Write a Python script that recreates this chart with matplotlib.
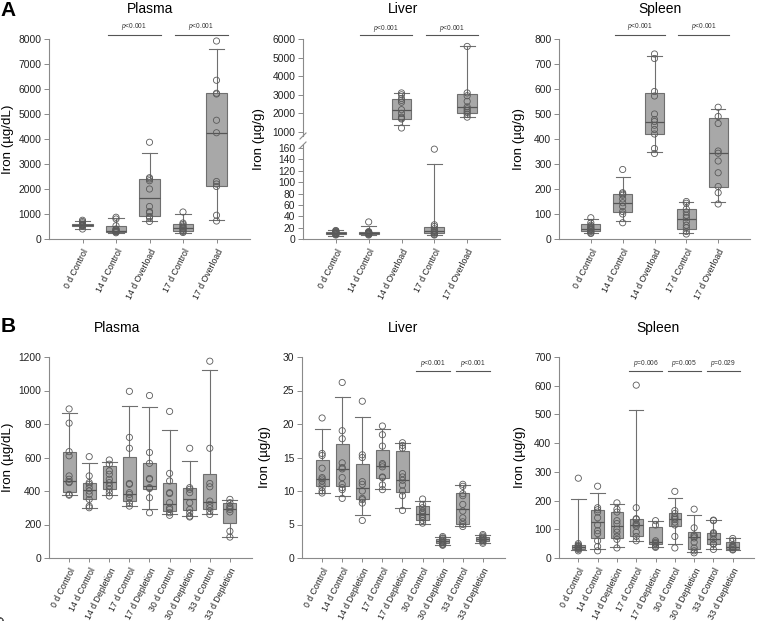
import numpy as np
import matplotlib.pyplot as plt
from matplotlib.lines import Line2D

plt.rcParams['font.family'] = ['Liberation Sans', 'DejaVu Sans']
plt.rcParams['mathtext.fontset'] = 'custom'
plt.rcParams['mathtext.it'] = 'Liberation Sans:italic'
plt.rcParams['mathtext.rm'] = 'Liberation Sans'

W, H = 760, 621

groups_a = ['0 d Control', '14 d Control', '14 d Overload', '17 d Control', '17 d Overload']
groups_b = ['0 d Control', '14 d Control', '14 d Depletion', '17 d Control', '17 d Depletion',
            '30 d Control', '30 d Depletion', '33 d Control', '33 d Depletion']

# ---- A: plasma (ug/dL)
a_plasma_lo = [400, 240, 710, 220, 770]
a_plasma_q1 = [510, 270, 930, 330, 2120]
a_plasma_med = [560, 320, 1640, 440, 4230]
a_plasma_q3 = [610, 530, 2400, 600, 5840]
a_plasma_hi = [730, 840, 3440, 1000, 7600]
a_plasma_pts = [[750, 700, 650, 600, 580, 560, 550, 530, 520, 400],
                [870, 800, 530, 400, 380, 350, 320, 300, 280, 250],
                [3870, 2450, 2400, 2330, 2000, 1300, 1100, 1050, 900, 850, 700],
                [1080, 640, 580, 520, 470, 430, 400, 350, 300, 260],
                [7920, 6350, 5830, 5800, 4750, 4250, 2300, 2200, 2100, 950, 720]]

# ---- A: liver (ug/g), broken axis
a_liver_lo = [6, 7, 1376, 7, 1806]
a_liver_q1 = [8, 9, 1700, 10.5, 2022]
a_liver_med = [10, 11, 2183, 14, 2344]
a_liver_q3 = [13, 12.5, 2774, 21, 3043]
a_liver_hi = [15, 23, 3100, 132, 5624]
a_liver_pts = [[15, 14, 13, 12, 11, 10.5, 10, 9.5, 9, 8, 7],
               [30, 13, 12, 12, 11, 11, 10, 10, 9, 8, 7],
               [3100, 3000, 2800, 2700, 2600, 2200, 2000, 1800, 1750, 1700, 1215],
               [158, 25, 22, 18, 15, 13, 12, 10, 8, 7],
               [5600, 3100, 2950, 2650, 2350, 2250, 2150, 2050, 1950, 1800]]

# ---- A: spleen (ug/g)
a_spleen_lo = [25, 71, 347, 25, 147]
a_spleen_q1 = [33, 107, 420, 39, 207]
a_spleen_med = [40, 144, 469, 80, 343]
a_spleen_q3 = [58, 180, 583, 120, 485]
a_spleen_hi = [80, 247, 733, 149, 520]
a_spleen_pts = [[85, 65, 55, 50, 45, 40, 38, 35, 30, 25, 22],
                [278, 185, 180, 175, 160, 145, 130, 110, 100, 65],
                [740, 722, 590, 572, 500, 478, 470, 455, 438, 420, 362, 342],
                [150, 143, 120, 108, 95, 85, 70, 55, 45, 30, 20],
                [527, 490, 462, 352, 343, 312, 265, 210, 185, 140]]

# ---- B: plasma (ug/dL)
b_plasma_lo = [375, 300, 375, 310, 290, 260, 250, 260, 125]
b_plasma_q1 = [395, 350, 410, 340, 410, 280, 285, 290, 210]
b_plasma_med = [458, 405, 455, 385, 430, 325, 350, 335, 295]
b_plasma_q3 = [630, 448, 550, 605, 565, 445, 415, 500, 330]
b_plasma_hi = [865, 570, 575, 910, 900, 765, 580, 1120, 345]
b_plasma_pts = [[890, 805, 635, 610, 490, 470, 455, 450, 380, 375],
                [605, 490, 450, 440, 420, 400, 380, 350, 310, 300],
                [585, 560, 520, 500, 470, 450, 430, 410, 390, 370],
                [995, 720, 655, 445, 440, 390, 380, 360, 330, 310],
                [970, 630, 565, 475, 470, 420, 415, 360, 270],
                [875, 505, 460, 390, 385, 330, 300, 290, 270, 255],
                [655, 420, 410, 390, 330, 290, 270, 250, 245],
                [1175, 655, 445, 425, 340, 320, 300, 280, 260],
                [350, 330, 310, 300, 290, 275, 160, 125]]

# ---- B: liver (ug/g)
b_liver_lo = [9.7, 9.3, 6.4, 10.3, 7.5, 5.1, 1.9, 4.8, 2.3]
b_liver_q1 = [10.7, 10.7, 8.8, 12.0, 9.9, 5.6, 2.2, 5.1, 2.5]
b_liver_med = [11.8, 13.3, 10.4, 13.7, 11.7, 6.5, 2.5, 7.3, 2.8]
b_liver_q3 = [14.6, 17.0, 14.0, 16.1, 15.9, 7.7, 2.9, 9.7, 3.2]
b_liver_hi = [19.3, 24.0, 21.0, 19.2, 17.2, 8.5, 3.1, 10.9, 3.4]
b_liver_pts = [[20.9, 15.6, 15.3, 13.4, 12.0, 11.8, 11.5, 11.0, 10.5, 10.0, 9.7],
               [26.2, 19.0, 17.8, 14.2, 13.5, 13.3, 12.0, 11.0, 10.5, 10.2, 8.9],
               [23.4, 15.4, 15.0, 11.4, 11.0, 10.0, 8.9, 8.7, 8.2, 5.6],
               [19.7, 18.4, 16.7, 14.1, 13.9, 13.6, 12.1, 12.0, 10.9, 10.2],
               [17.2, 16.8, 16.4, 12.6, 12.1, 11.6, 10.9, 10.0, 9.3, 7.1],
               [8.8, 8.0, 7.5, 7.0, 6.8, 6.5, 6.2, 6.0, 5.6, 5.2],
               [3.2, 3.0, 2.9, 2.7, 2.5, 2.4, 2.3, 2.1, 2.0, 1.9],
               [11.0, 10.7, 9.6, 9.3, 8.0, 7.0, 6.0, 5.4, 5.0, 4.7],
               [3.5, 3.3, 3.1, 3.0, 2.8, 2.7, 2.6, 2.4, 2.2]]

# ---- B: spleen (ug/g)
b_spleen_lo = [27, 30, 40, 58, 38, 48, 20, 32, 27]
b_spleen_q1 = [30, 68, 68, 78, 50, 112, 33, 48, 30]
b_spleen_med = [37, 125, 110, 115, 55, 135, 72, 65, 37]
b_spleen_q3 = [45, 168, 160, 137, 107, 155, 90, 87, 57]
b_spleen_hi = [207, 228, 188, 515, 128, 210, 150, 132, 68]
b_spleen_pts = [[278, 50, 45, 42, 40, 38, 35, 33, 30, 25],
                [250, 175, 168, 160, 140, 115, 95, 85, 60, 40, 25],
                [192, 170, 160, 130, 120, 100, 90, 75, 65, 35],
                [602, 175, 137, 135, 120, 115, 110, 90, 75, 60],
                [130, 115, 60, 55, 52, 50, 45, 40, 37],
                [232, 165, 155, 145, 140, 135, 125, 115, 75, 35],
                [170, 105, 80, 75, 70, 55, 35, 25, 18],
                [132, 130, 88, 85, 80, 65, 50, 48, 30],
                [68, 60, 45, 40, 37, 35, 30, 28]]

# p-value brackets: (first group, second group, text)
a_pvals = [(2, 3, '$p$<0.001'), (4, 5, '$p$<0.001')]
b_liver_pvals = [(6, 7, '$p$<0.001'), (8, 9, '$p$<0.001')]
b_spleen_pvals = [(4, 5, '$p$=0.006'), (6, 7, '$p$=0.005'), (8, 9, '$p$=0.029')]

BOX_FILL = '#a8a8a8'
EDGE = '#6f6f6f'
SPINE = '#8a8a8a'

fig = plt.figure(figsize=(W / 100, H / 100), dpi=100)


def px_axes(l, t, r, b):
    return fig.add_axes([l / W, 1 - b / H, (r - l) / W, (b - t) / H])


def style(ax, ylim, yticks, xlim, labels=None, bottom=True):
    ax.set_ylim(*ylim)
    ax.set_xlim(*xlim)
    ax.set_yticks(yticks)
    for s in ['top', 'right']:
        ax.spines[s].set_visible(False)
    for s in ['left', 'bottom']:
        ax.spines[s].set_color(SPINE)
        ax.spines[s].set_linewidth(0.8)
    ax.tick_params(axis='y', length=3.5, width=0.7, color=SPINE,
                   labelsize=7.4, labelcolor='#222222', pad=2)
    ax.tick_params(axis='x', length=3, width=0.7, color=SPINE,
                   labelsize=6.3, labelcolor='#222222', pad=3)
    if bottom:
        ax.set_xticks(np.arange(1, len(labels) + 1))
        ax.set_xticklabels(labels, rotation=63, ha='right', rotation_mode='anchor')
    else:
        ax.spines['bottom'].set_visible(False)
        ax.set_xticks([])


def draw_boxes(ax, lo, q1, med, q3, hi, pts, width, capw, ylim=None):
    stats = [dict(whislo=a, q1=b, med=c, q3=d, whishi=e, fliers=[])
             for a, b, c, d, e in zip(lo, q1, med, q3, hi)]
    pos = np.arange(1, len(stats) + 1)
    ax.bxp(stats, positions=pos, widths=width, capwidths=capw, patch_artist=True,
           showfliers=False, manage_ticks=False,
           boxprops=dict(facecolor=BOX_FILL, edgecolor=EDGE, linewidth=0.8),
           medianprops=dict(color='#555555', linewidth=0.9),
           whiskerprops=dict(color=EDGE, linewidth=0.8),
           capprops=dict(color=EDGE, linewidth=0.8))
    for p, vals in zip(pos, pts):
        vals = np.array(vals, dtype=float)
        if ylim is not None:
            vals = vals[(vals >= ylim[0]) & (vals <= ylim[1])]
        ax.scatter(np.full(len(vals), p), vals, s=20, facecolors='none',
                   edgecolors='#5a5a5a', linewidths=0.6, zorder=3, clip_on=False)


def add_p(ax, pairs, y_line, y_text, left, right):
    tr = ax.get_xaxis_transform()
    for i, j, txt in pairs:
        x0, x1 = i - left, j + right
        ax.add_line(Line2D([x0, x1], [y_line, y_line], transform=tr, color='#555555',
                           linewidth=0.8, clip_on=False))
        ax.text((x0 + x1) / 2, y_text, txt, transform=tr, ha='center', va='center',
                fontsize=4.8, color='#333333')


def ylabel(xc, yc, text):
    fig.text(xc / W, 1 - yc / H, text, rotation=90, ha='center', va='center', fontsize=9.6)


def title(xc, yc, text):
    fig.text(xc / W, 1 - yc / H, text, ha='center', va='center', fontsize=10)


# ===== Row A =====
ax = px_axes(49, 39, 250, 239)
style(ax, (0, 8000), np.arange(0, 8001, 1000), (0, 6), groups_a)
draw_boxes(ax, a_plasma_lo, a_plasma_q1, a_plasma_med, a_plasma_q3, a_plasma_hi,
           a_plasma_pts, 0.6, 0.45)
add_p(ax, a_pvals, 1.02, 1.06, 0.25, 0.33)
ylabel(8, 139, 'Iron (µg/dL)')
title(150, 9, 'Plasma')

# liver: broken axis
lim_lo = (0, 165.3)
lim_up = (785, 6000)
ax_lo = px_axes(303, 145, 500, 239)
style(ax_lo, lim_lo, np.arange(0, 161, 20), (0, 6), groups_a)
draw_boxes(ax_lo, a_liver_lo, a_liver_q1, a_liver_med, a_liver_q3, a_liver_hi,
           a_liver_pts, 0.6, 0.45, ylim=lim_lo)
ax_up = px_axes(303, 39, 500, 136)
style(ax_up, lim_up, np.arange(1000, 6001, 1000), (0, 6), bottom=False)
draw_boxes(ax_up, a_liver_lo, a_liver_q1, a_liver_med, a_liver_q3, a_liver_hi,
           a_liver_pts, 0.6, 0.45, ylim=lim_up)
add_p(ax_up, a_pvals, 1.041, 1.113, 0.25, 0.33)
for (x0, y0, x1, y1) in [(300, 148, 306, 142), (300, 139, 306, 133)]:
    fig.add_artist(Line2D([x0 / W, x1 / W], [1 - y0 / H, 1 - y1 / H],
                          color=SPINE, linewidth=0.8))
ylabel(259, 139, 'Iron (µg/g)')
title(403, 9, 'Liver')

ax = px_axes(559, 39, 750, 239)
style(ax, (0, 800), np.arange(0, 801, 100), (0, 6), groups_a)
draw_boxes(ax, a_spleen_lo, a_spleen_q1, a_spleen_med, a_spleen_q3, a_spleen_hi,
           a_spleen_pts, 0.6, 0.45)
add_p(ax, a_pvals, 1.02, 1.06, 0.25, 0.33)
ylabel(519, 139, 'Iron (µg/g)')
title(660, 9, 'Spleen')

# ===== Row B =====
ax = px_axes(49, 357, 252, 558)
style(ax, (0, 1200), np.arange(0, 1201, 200), (0, 10.1), groups_b)
draw_boxes(ax, b_plasma_lo, b_plasma_q1, b_plasma_med, b_plasma_q3, b_plasma_hi,
           b_plasma_pts, 0.65, 0.75)
ylabel(8, 457, 'Iron (µg/dL)')
title(117, 328, 'Plasma')

ax = px_axes(302, 357, 505, 558)
style(ax, (0, 30), np.arange(0, 31, 5), (0, 10.1), groups_b)
draw_boxes(ax, b_liver_lo, b_liver_q1, b_liver_med, b_liver_q3, b_liver_hi,
           b_liver_pts, 0.65, 0.75)
add_p(ax, b_liver_pvals, 0.93, 0.97, 0.35, 0.35)
ylabel(265, 457, 'Iron (µg/g)')
title(403, 328, 'Liver')

ax = px_axes(559, 357, 754, 558)
style(ax, (0, 700), np.arange(0, 701, 100), (0, 10.1), groups_b)
draw_boxes(ax, b_spleen_lo, b_spleen_q1, b_spleen_med, b_spleen_q3, b_spleen_hi,
           b_spleen_pts, 0.65, 0.75)
add_p(ax, b_spleen_pvals, 0.93, 0.97, 0.35, 0.35)
ylabel(520, 457, 'Iron (µg/g)')
title(658, 328, 'Spleen')

fig.text(8 / W, 1 - 10 / H, 'A', fontsize=15, fontweight='bold', ha='center', va='center')
fig.text(8 / W, 1 - 327 / H, 'B', fontsize=15, fontweight='bold', ha='center', va='center')

fig.savefig('out.png', dpi=100)
